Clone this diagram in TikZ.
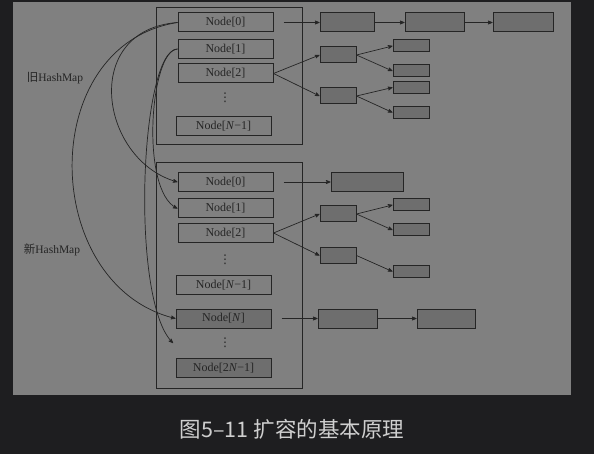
\documentclass[tikz,border=0pt]{standalone}
\usepackage{fontspec}
\setmainfont{Liberation Serif}
\newfontfamily\cjk{Noto Sans CJK SC}
\newfontfamily\symfont{DejaVu Sans}
\usepackage{tikz}
\usetikzlibrary{arrows}
\definecolor{pagebg}{HTML}{1E1E20}
\definecolor{panelgray}{HTML}{808080}
\definecolor{boxgray}{HTML}{6E6E6E}
\definecolor{inkgray}{HTML}{252525}
\definecolor{captiongray}{HTML}{CFCFCF}
\tikzset{
    tnode/.style = {align=center, inner sep=0pt, text centered, text=inkgray},
    slot_node/.style = {tnode, rectangle, draw=inkgray, line width=1pt, minimum width=95pt, minimum height=19pt, font=\fontsize{12}{14}\selectfont},
    dark_slot_node/.style = {slot_node, fill=boxgray},
    map_node/.style = {tnode, rectangle, draw=inkgray, line width=1pt, minimum width=146pt},
    entry_node/.style = {tnode, rectangle, draw=inkgray, fill=boxgray, line width=1pt, minimum height=19pt},
    mid_node/.style = {entry_node, minimum width=36pt, minimum height=16pt},
    small_node/.style = {entry_node, minimum width=36pt, minimum height=12pt},
    dots_node/.style = {tnode, font=\symfont\fontsize{12}{12}\selectfont},
    label_node/.style = {tnode, font=\fontsize{11.5}{13}\selectfont},
    caption_node/.style = {tnode, text=captiongray, font=\cjk\fontsize{21.5}{24}\selectfont}
}

\begin{document}
\begin{tikzpicture}
            [-,>=stealth', x=1pt, y=-1pt, draw=inkgray, line width=0.7pt]

            % page and panel
            \fill[pagebg] (0,0) rectangle (594,454);
            \fill[panelgray] (13,2) rectangle (571,395);

            % old table
            \node [map_node, minimum height=137pt] (old_map) at (229,76.5) {};
            \node [slot_node] (old_0) at (225.5,22.5) {Node[0]};
            \node [slot_node] (old_1) at (225.5,49) {Node[1]};
            \node [slot_node] (old_2) at (225.5,73.5) {Node[2]};
            \node [dots_node] (old_dots) at (225,98) {⋮};
            \node [slot_node] (old_last) at (223.5,126) {Node[\textit{N}−1]};
            \node [label_node] (old_label) at (55,78) {{\cjk 旧}HashMap};

            % new table
            \node [map_node, minimum height=225pt] (new_map) at (229,275.5) {};
            \node [slot_node] (new_0) at (225.5,182) {Node[0]};
            \node [slot_node] (new_1) at (225.5,208.5) {Node[1]};
            \node [slot_node] (new_2) at (225.5,233) {Node[2]};
            \node [dots_node] (new_dots) at (225,260) {⋮};
            \node [slot_node] (new_last) at (223.5,285) {Node[\textit{N}−1]};
            \node [dark_slot_node] (new_n) at (223.5,318.5) {Node[\textit{N}]};
            \node [dots_node] (new_more) at (225,343) {⋮};
            \node [dark_slot_node] (new_end) at (223.5,368) {Node[2\textit{N}−1]};
            \coordinate (new_next) at (173,343);
            \node [label_node] (new_label) at (52,250) {{\cjk 新}HashMap};

            % old chains
            \node [entry_node, minimum width=54pt] (old_0a) at (347,22.5) {};
            \node [entry_node, minimum width=59pt] (old_0b) at (434.5,22.5) {};
            \node [entry_node, minimum width=60pt] (old_0c) at (523,22.5) {};
            \node [mid_node] (old_2a) at (338,55) {};
            \node [mid_node] (old_2b) at (338,96) {};
            \node [small_node] (old_2a1) at (411,46) {};
            \node [small_node] (old_2a2) at (411,71) {};
            \node [small_node] (old_2b1) at (411,87.5) {};
            \node [small_node] (old_2b2) at (411,112.5) {};

            \draw[->, shorten <=10pt] (old_0.east) -- (old_0a.west);
            \draw[->] (old_0a.east) -- (old_0b.west);
            \draw[->] (old_0b.east) -- (old_0c.west);
            \draw[->] (old_2.east) -- (old_2a.west);
            \draw[->] (old_2.east) -- (old_2b.west);
            \draw[->] (old_2a.east) -- (old_2a1.west);
            \draw[->] (old_2a.east) -- (old_2a2.west);
            \draw[->] (old_2b.east) -- (old_2b1.west);
            \draw[->] (old_2b.east) -- (old_2b2.west);

            % new chains
            \node [entry_node, minimum width=72pt] (new_0a) at (367,182) {};
            \node [mid_node] (new_2a) at (338,214) {};
            \node [mid_node] (new_2b) at (338,255.5) {};
            \node [small_node] (new_2a1) at (411,205) {};
            \node [small_node] (new_2a2) at (411,230) {};
            \node [small_node] (new_2b1) at (411,271.5) {};
            \node [entry_node, minimum width=59pt] (new_na) at (347.5,318.5) {};
            \node [entry_node, minimum width=58pt] (new_nb) at (446,318.5) {};

            \draw[->, shorten <=10pt] (new_0.east) -- (new_0a.west);
            \draw[->] (new_2.east) -- (new_2a.west);
            \draw[->] (new_2.east) -- (new_2b.west);
            \draw[->] (new_2a.east) -- (new_2a1.west);
            \draw[->] (new_2a.east) -- (new_2a2.west);
            \draw[->] (new_2b.east) -- (new_2b1.west);
            \draw[->, shorten <=10pt] (new_n.east) -- (new_na.west);
            \draw[->] (new_na.east) -- (new_nb.west);

            % rehash moves
            \draw[->] (old_0.west) .. controls (80,30) and (100,160) .. (new_0.west);
            \draw[->] (old_0.west) .. controls (35,45) and (40,285) .. (new_n.west);
            \draw[->] (old_1.west) .. controls (150,50) and (140,190) .. (new_1.west);
            \draw[->] (old_1.west) .. controls (140,50) and (130,300) .. (new_next);

            % caption
            \node [caption_node] (caption) at (292,429) {图5–11 扩容的基本原理};
        \end{tikzpicture}
\end{document}
